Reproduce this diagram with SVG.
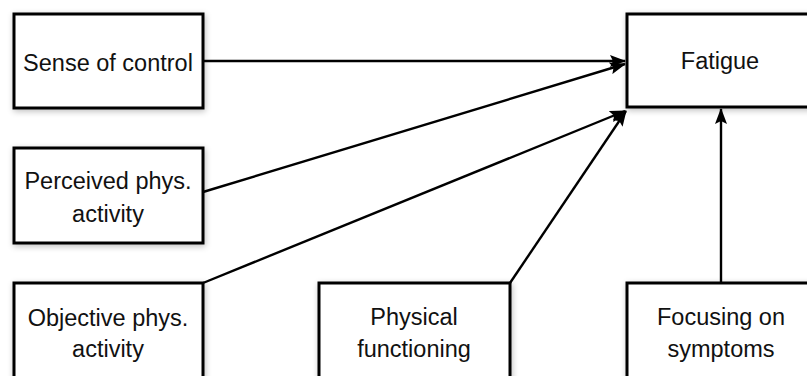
<svg xmlns="http://www.w3.org/2000/svg" width="807" height="376" viewBox="0 0 807 376">
<defs>
<filter id="sh" x="-10%" y="-10%" width="120%" height="120%">
<feGaussianBlur in="SourceAlpha" stdDeviation="3"/>
<feOffset dx="1" dy="2"/>
<feComponentTransfer><feFuncA type="linear" slope="0.25"/></feComponentTransfer>
<feMerge><feMergeNode/><feMergeNode in="SourceGraphic"/></feMerge>
</filter>
<marker id="ah" markerWidth="16" markerHeight="12" refX="15" refY="6" orient="auto" markerUnits="userSpaceOnUse">
<path d="M0,0 L16,6 L0,12 L3,6 Z" fill="#000"/>
</marker>
</defs>
<style>
.box{fill:#fff;stroke:#000;stroke-width:3;filter:url(#sh)}
.lbl{font-family:"Liberation Sans",Arial,sans-serif;font-size:23.5px;fill:#111;text-anchor:middle}
.con{stroke:#000;stroke-width:2.4;fill:none;marker-end:url(#ah)}
</style>
<rect width="807" height="376" fill="#fff"/>
<g id="connectors">
<line class="con" x1="203" y1="61" x2="625" y2="61"/>
<line class="con" x1="203" y1="192" x2="625" y2="64"/>
<line class="con" x1="203" y1="283" x2="625" y2="111"/>
<line class="con" x1="510" y1="283" x2="626" y2="111"/>
<line class="con" x1="721" y1="283" x2="721" y2="109"/>
</g>
<g id="sense">
<rect class="box" x="14" y="14" width="189" height="94"/>
<text class="lbl" x="108" y="71">Sense of control</text>
</g>
<g id="fatigue">
<rect class="box" x="627" y="14" width="190" height="93"/>
<text class="lbl" x="720" y="69">Fatigue</text>
</g>
<g id="perceived">
<rect class="box" x="14" y="148" width="189" height="95"/>
<text class="lbl" x="108" y="189">Perceived phys.</text>
<text class="lbl" x="108" y="222">activity</text>
</g>
<g id="objective">
<rect class="box" x="14" y="283" width="189" height="110"/>
<text class="lbl" x="108" y="326">Objective phys.</text>
<text class="lbl" x="108" y="357">activity</text>
</g>
<g id="physical">
<rect class="box" x="319" y="283" width="191" height="110"/>
<text class="lbl" x="414" y="325">Physical</text>
<text class="lbl" x="414" y="357">functioning</text>
</g>
<g id="focusing">
<rect class="box" x="627" y="283" width="190" height="110"/>
<text class="lbl" x="721" y="325">Focusing on</text>
<text class="lbl" x="721" y="357">symptoms</text>
</g>
</svg>
